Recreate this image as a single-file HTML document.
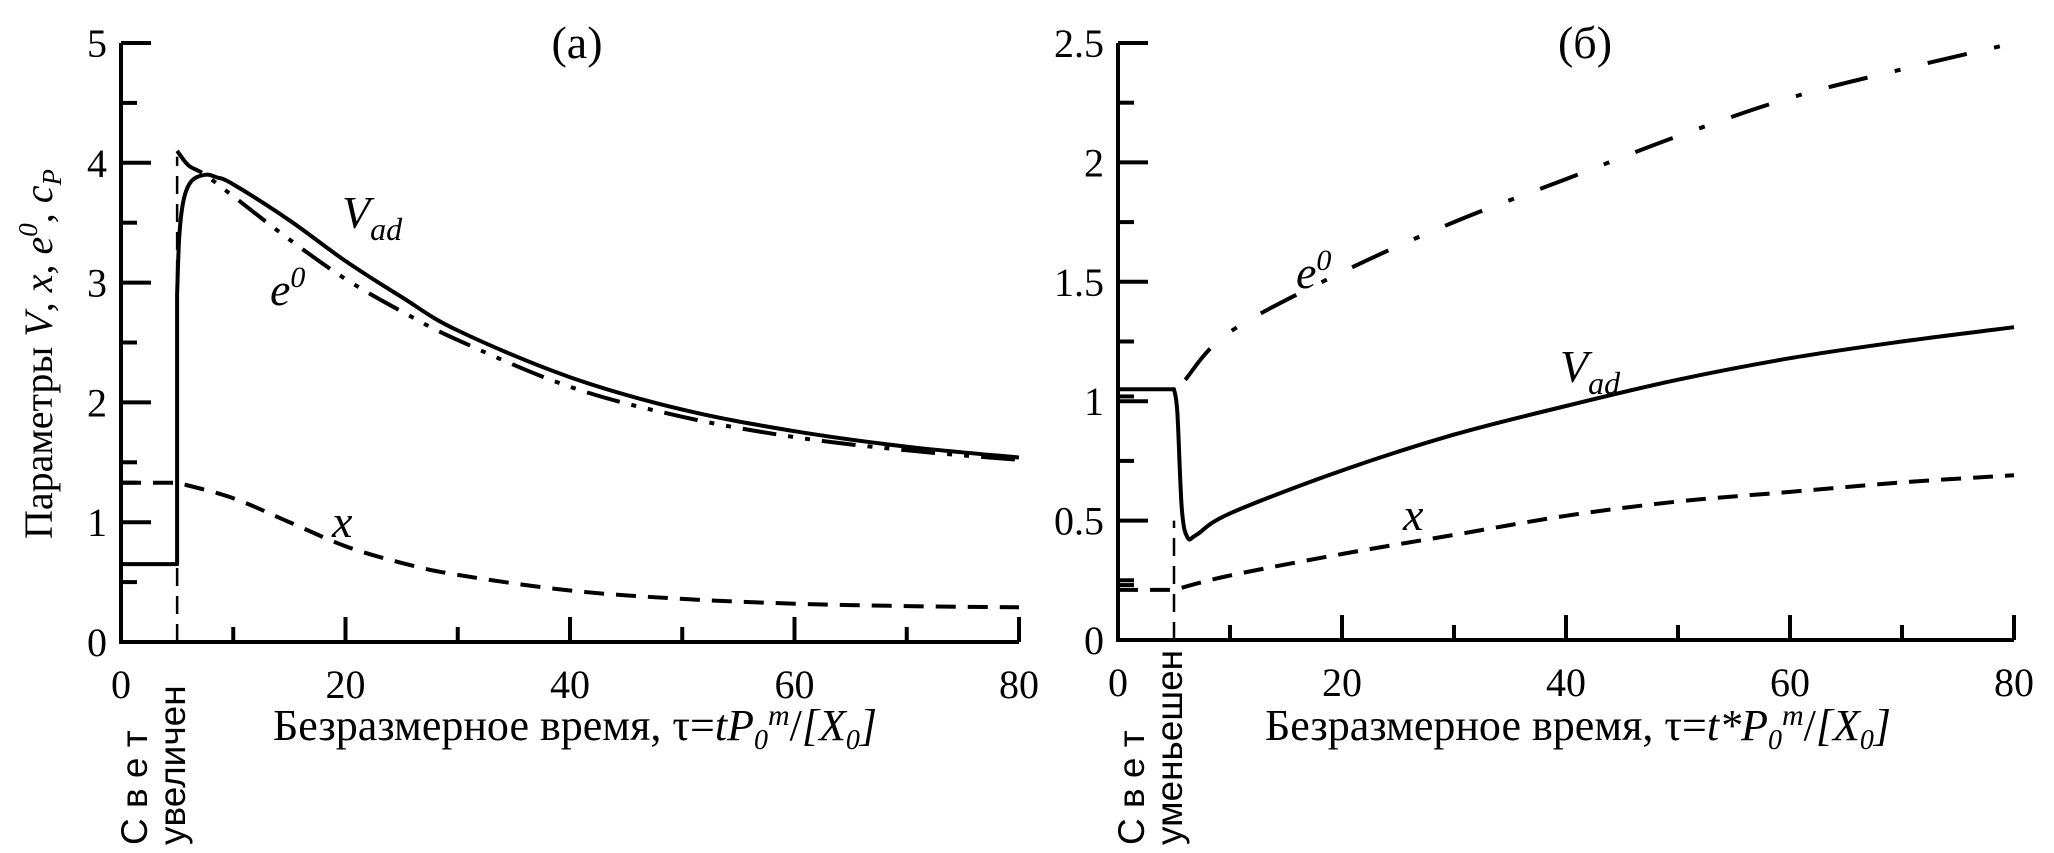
<!DOCTYPE html>
<html><head><meta charset="utf-8">
<style>
html,body{margin:0;padding:0;background:#fff;}
svg{display:block;}
text{font-family:"Liberation Serif",serif;fill:#000;}
.sans{font-family:"Liberation Sans",sans-serif;}
</style></head>
<body>
<svg id="chart" width="2054" height="853" viewBox="0 0 2054 853" xmlns="http://www.w3.org/2000/svg"></svg>
<script>
// ---- Panel (a) data ----
const tauA_V = [0, 5, 5, 5.2, 5.6, 6.3, 7.5, 8.5, 10, 15, 20, 25, 30, 40, 50, 60, 70, 80];
const valA_V = [0.65, 0.65, 2.9, 3.4, 3.7, 3.85, 3.9, 3.88, 3.82, 3.52, 3.18, 2.88, 2.6, 2.21, 1.94, 1.76, 1.63, 1.54];
const tauA_E = [5, 6, 7.5, 10, 15, 20, 25, 30, 40, 50, 60, 70, 80];
const valA_E = [4.1, 3.98, 3.9, 3.72, 3.36, 3.03, 2.76, 2.52, 2.13, 1.88, 1.71, 1.6, 1.52];
const tauA_X = [0, 5, 10, 15, 20, 25, 30, 40, 50, 60, 70, 80];
const valA_X = [1.33, 1.33, 1.2, 1.0, 0.8, 0.66, 0.56, 0.43, 0.36, 0.32, 0.3, 0.29];
// ---- Panel (b) data ----
const tauB_V = [0, 5, 5.3, 5.7, 6.2, 7, 10, 20, 30, 40, 50, 60, 70, 80];
const valB_V = [1.05, 1.05, 0.95, 0.55, 0.43, 0.44, 0.53, 0.71, 0.86, 0.98, 1.09, 1.18, 1.25, 1.31];
const tauB_E = [6, 10, 20, 30, 40, 50, 60, 70, 80];
const valB_E = [1.09, 1.29, 1.54, 1.75, 1.93, 2.11, 2.27, 2.39, 2.5];
const tauB_X = [0, 5, 10, 20, 30, 40, 50, 60, 70, 80];
const valB_X = [0.21, 0.21, 0.27, 0.36, 0.44, 0.52, 0.58, 0.62, 0.66, 0.69];
// ---- ticks ----
const xTicks = [0, 20, 40, 60, 80];
const xMinor = [10, 30, 50, 70];
const yTicksA = [0, 1, 2, 3, 4, 5];
const yTicksB = [0, 0.5, 1, 1.5, 2, 2.5];
const yTickLabelsB = ["0", "0.5", "1", "1.5", "2", "2.5"];
const lightOnTau = 5;

const NS = "http://www.w3.org/2000/svg";
const svg = document.getElementById('chart');
function mk(tag, attrs, parent) {
  const e = document.createElementNS(NS, tag);
  for (const k in attrs) e.setAttribute(k, attrs[k]);
  (parent || svg).appendChild(e);
  return e;
}
function buildPath(pts, k) {
  let d = 'M' + pts[0][0].toFixed(1) + ',' + pts[0][1].toFixed(1);
  for (let i = 1; i <= k; i++) d += ' L' + pts[i][0].toFixed(1) + ',' + pts[i][1].toFixed(1);
  for (let i = k; i < pts.length - 1; i++) {
    const p0 = pts[Math.max(i - 1, k)], p1 = pts[i], p2 = pts[i + 1], p3 = pts[Math.min(i + 2, pts.length - 1)];
    const t = 0.17;
    const c1 = [p1[0] + (p2[0] - p0[0]) * t, p1[1] + (p2[1] - p0[1]) * t];
    const c2 = [p2[0] - (p3[0] - p1[0]) * t, p2[1] - (p3[1] - p1[1]) * t];
    d += ' C' + c1[0].toFixed(1) + ',' + c1[1].toFixed(1) + ' ' + c2[0].toFixed(1) + ',' + c2[1].toFixed(1) + ' ' + p2[0].toFixed(1) + ',' + p2[1].toFixed(1);
  }
  return d;
}
function panel(cfg) {
  const g = mk('g', {});
  
  
  const sx = t => cfg.x0 + t / 80 * (cfg.x1 - cfg.x0);
  const sy = v => cfg.y0 - v / cfg.ymax * (cfg.y0 - cfg.y1);
  const ax = mk('path', {d: `M${sx(0)},${sy(cfg.ymax)} L${sx(0)},${sy(0)} L${sx(80)},${sy(0)}`, fill: 'none', stroke: '#000', 'stroke-width': 4}, g);
  
  
  cfg.yTicks.forEach((v, i) => {
    mk('line', {x1: sx(0), y1: sy(v), x2: sx(0) + 30, y2: sy(v), stroke: '#000', 'stroke-width': 4}, g);
    const t = mk('text', {x: sx(0) - 14, y: sy(v) + 14, 'text-anchor': 'end', 'font-size': 40}, g);
    t.textContent = cfg.yLabels[i];
    
    
    if (i < cfg.yTicks.length - 1) {
      const m = (v + cfg.yTicks[i + 1]) / 2;
      mk('line', {x1: sx(0), y1: sy(m), x2: sx(0) + 16, y2: sy(m), stroke: '#000', 'stroke-width': 4}, g);
    }
  });
  cfg.extraY.forEach(v => mk('line', {x1: sx(0), y1: sy(v), x2: sx(0) + 16, y2: sy(v), stroke: '#000', 'stroke-width': 4}, g));
  xTicks.forEach(t => {
    mk('line', {x1: sx(t), y1: sy(0), x2: sx(t), y2: sy(0) - 25, stroke: '#000', 'stroke-width': 4}, g);
    const tx = mk('text', {x: sx(t), y: sy(0) + 56, 'text-anchor': 'middle', 'font-size': 40}, g);
    tx.textContent = String(t);
    
    
  });
  xMinor.forEach(t => mk('line', {x1: sx(t), y1: sy(0), x2: sx(t), y2: sy(0) - 15, stroke: '#000', 'stroke-width': 4}, g));
  const mark = mk('line', {x1: sx(lightOnTau), y1: sy(0), x2: sx(lightOnTau), y2: sy(cfg.markTop), stroke: '#000', 'stroke-width': 2.5, 'stroke-dasharray': '18 10'}, g);
  
  
  function line(ts, vs, dash, name, k) {
    const pts = ts.map((t, i) => [sx(t), sy(vs[i])]);
    const p = mk('path', {d: buildPath(pts, k), fill: 'none', stroke: '#000', 'stroke-width': 4, 'stroke-linejoin': 'round'}, g);
    if (dash) p.setAttribute('stroke-dasharray', dash);
    
    
  }
  cfg.series.forEach(s => line(s[0], s[1], s[2], s[3], s[4]));
  cfg.labels.forEach(l => {
    const t = mk('text', {x: l.x, y: l.y, 'font-size': 46, 'font-style': 'italic'}, g);
    t.innerHTML = l.html;
    
    
  });
  const title = mk('text', {x: cfg.titleX, y: 58, 'text-anchor': 'middle', 'font-size': 46}, g);
  title.textContent = cfg.title;
  
  
  const xt = mk('text', {x: cfg.xTitleX, y: 740, 'text-anchor': 'middle', 'font-size': 44}, g);
  xt.innerHTML = cfg.xTitle;
  
  
  const lt = mk('text', {transform: `translate(${sx(lightOnTau) + 4},845) rotate(-90)`, 'font-size': 37, class: 'sans'}, g);
  lt.innerHTML = `<tspan x="0" dy="-34">С в е т</tspan><tspan x="0" dy="38">${cfg.lightWord}</tspan>`;
  
  
}

const xTitleA = 'Безразмерное время, τ=<tspan font-style="italic">tP</tspan><tspan font-style="italic" font-size="28" dy="9">0</tspan><tspan font-style="italic" font-size="30" dy="-24">m</tspan><tspan dy="15">/</tspan><tspan font-style="italic">[X</tspan><tspan font-style="italic" font-size="28" dy="9">0</tspan><tspan font-style="italic" dy="-9">]</tspan>';
const xTitleB = 'Безразмерное время, τ=<tspan font-style="italic">t*P</tspan><tspan font-style="italic" font-size="28" dy="9">0</tspan><tspan font-style="italic" font-size="30" dy="-24">m</tspan><tspan dy="15">/</tspan><tspan font-style="italic">[X</tspan><tspan font-style="italic" font-size="28" dy="9">0</tspan><tspan font-style="italic" dy="-9">]</tspan>';

panel({
  name: 'panel-a', x0: 121, x1: 1019, y0: 642, y1: 43, ymax: 5,
  yTicks: yTicksA, yLabels: yTicksA.map(String), extraY: [1.33], markTop: 4.05,
  series: [
    [tauA_V, valA_V, null, 'series-v-ad', 2],
    [tauA_E, valA_E, '34 12 5 12 5 12', 'series-e0', 0],
    [tauA_X, valA_X, '20 12', 'series-x', 1]
  ],
  labels: [
    {x: 342, y: 228, html: 'V<tspan font-size="32" dy="12">ad</tspan>', name: 'label-v-ad'},
    {x: 270, y: 305, html: 'e<tspan font-size="30" dy="-18">0</tspan>', name: 'label-e0'},
    {x: 332, y: 537, html: 'x', name: 'label-x'}
  ],
  title: '(a)', titleX: 577, xTitle: xTitleA, xTitleX: 575, lightWord: 'увеличен'
});
panel({
  name: 'panel-b', x0: 1118, x1: 2014, y0: 640, y1: 43, ymax: 2.5,
  yTicks: yTicksB, yLabels: yTickLabelsB, extraY: [1.02, 0.23], markTop: 0.5,
  series: [
    [tauB_V, valB_V, null, 'series-v-ad', 1],
    [tauB_E, valB_E, '40 28 6 28', 'series-e0', 0],
    [tauB_X, valB_X, '20 12', 'series-x', 1]
  ],
  labels: [
    {x: 1560, y: 382, html: 'V<tspan font-size="32" dy="12">ad</tspan>', name: 'label-v-ad'},
    {x: 1296, y: 288, html: 'e<tspan font-size="30" dy="-18">0</tspan>', name: 'label-e0'},
    {x: 1403, y: 530, html: 'x', name: 'label-x'}
  ],
  title: '(б)', titleX: 1585, xTitle: xTitleB, xTitleX: 1578, lightWord: 'уменьешен'
});
const yt = mk('text', {transform: 'translate(52,354) rotate(-90)', 'text-anchor': 'middle', 'font-size': 40});
yt.innerHTML = 'Параметры <tspan font-style="italic">V</tspan>, <tspan font-style="italic">x</tspan>, <tspan font-style="italic">e</tspan><tspan font-style="italic" font-size="27" dy="-15">0</tspan><tspan dy="15">, </tspan><tspan font-style="italic">c</tspan><tspan font-style="italic" font-size="27" dy="9">P</tspan>';


</script>
</body></html>
